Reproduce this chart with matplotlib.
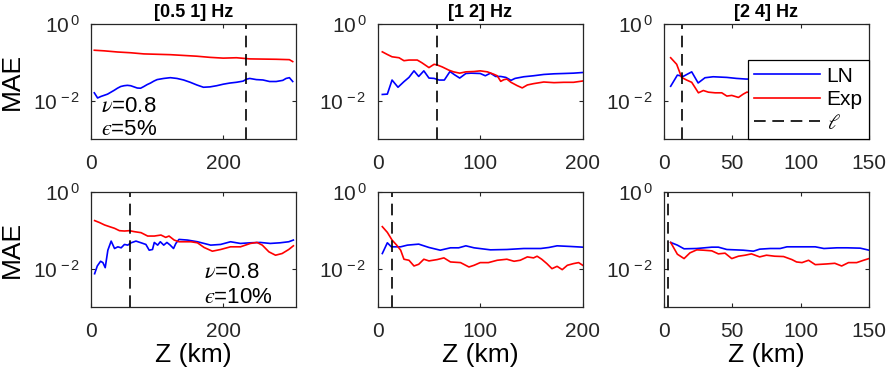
import numpy as np
import matplotlib
matplotlib.use("Agg")
import matplotlib.pyplot as plt

plt.rcParams['font.family'] = ['Liberation Sans', 'DejaVu Sans']
plt.rcParams['mathtext.fontset'] = 'stix'

titles = ['[0.5 1] Hz', '[1 2] Hz', '[2 4] Hz']
xlims = [310, 200, 150]
xticks = [[0, 200], [0, 100, 200], [0, 50, 100, 150]]
ell = [235, 58, 13.4, 59, 14.2, 2.9]

# log10(MAE)
ln_x1 = [5,10,15,20,25,30,35,40,45,50,55,60,65,70,75,80,85,90,95,100,110,120,130,140,150,
         160,170,180,190,200,210,220,230,235,240,250,260,270,280,290,295,300,305]
ln_y1 = [-1.795,-1.93,-1.89,-1.86,-1.83,-1.78,-1.73,-1.675,-1.63,-1.61,-1.60,-1.61,-1.64,-1.67,
         -1.675,-1.63,-1.58,-1.54,-1.49,-1.45,-1.42,-1.40,-1.42,-1.46,-1.52,-1.59,-1.65,-1.64,
         -1.61,-1.57,-1.54,-1.52,-1.49,-1.44,-1.42,-1.45,-1.46,-1.50,-1.50,-1.47,-1.42,-1.40,-1.50]
ex_x1 = [5,20,40,60,80,100,120,140,160,180,200,220,240,260,280,300,305]
ex_y1 = [-0.684,-0.70,-0.73,-0.75,-0.78,-0.79,-0.80,-0.82,-0.84,-0.87,-0.89,-0.88,-0.91,
         -0.915,-0.92,-0.93,-0.98]

ln_x2 = [4.5,9.4,14,19.8,25.6,30.5,35.4,40,45,50,55,60,65,70.5,75,80,86,91,100,105,110,115,
         120,125,130,134,142.5,152,162,172,181.5,191,200]
ln_y2 = [-1.838,-1.829,-1.462,-1.650,-1.504,-1.393,-1.222,-1.368,-1.222,-1.410,-1.419,-1.462,
         -1.462,-1.239,-1.325,-1.410,-1.291,-1.282,-1.291,-1.350,-1.282,-1.368,-1.368,-1.393,
         -1.470,-1.419,-1.376,-1.350,-1.316,-1.299,-1.291,-1.282,-1.265]
ex_x2 = [4.5,9.4,14,20.8,25.6,30.5,38.6,43,50,55,58,63,69.5,74,80,86,94,100,107,113,116.6,
         120,123,126,130,136,141,146,152,162,172,181.5,191,200]
ex_y2 = [-0.726,-0.795,-0.855,-0.880,-0.957,-0.940,-0.940,-1.009,-1.137,-1.051,-1.068,-1.120,
         -1.205,-1.248,-1.282,-1.248,-1.239,-1.222,-1.248,-1.308,-1.350,-1.496,-1.453,-1.436,
         -1.521,-1.607,-1.667,-1.590,-1.556,-1.513,-1.530,-1.521,-1.521,-1.487]

ln_x3 = [4.9,9.8,14,20.3,25,30,36,46,53,60,70,80,90,100,110,120,130,140,150]
ln_y3 = [-1.624,-1.333,-1.368,-1.248,-1.538,-1.402,-1.376,-1.393,-1.419,-1.436,-1.44,-1.45,
         -1.44,-1.43,-1.44,-1.45,-1.44,-1.44,-1.46]
ex_x3 = [4.9,9.3,12.9,16.6,20.3,25.2,28.8,32.5,37.4,42.3,46,49.6,54.5,58,60.6,70,80,90,100,
         110,120,130,140,150]
ex_y3 = [-0.880,-1.051,-1.393,-1.462,-1.521,-1.795,-1.735,-1.778,-1.795,-1.795,-1.880,-1.863,
         -1.915,-1.829,-1.778,-1.80,-1.82,-1.85,-1.88,-1.90,-1.88,-1.90,-1.87,-1.85]

ln_x4 = [5.5,9.5,14.5,18,21.5,25.5,30.5,35.6,40.6,45.6,50.6,55.6,60.6,68,75.7,83,88,93,95.7,
         100.8,104.8,110,114.8,119.8,124.8,128.3,133,145.9,161,181,196,211,226,241,256,271,
         286,299,306]
ln_y4 = [-2.132,-1.930,-1.807,-1.842,-1.974,-1.518,-1.281,-1.474,-1.430,-1.456,-1.368,-1.386,
         -1.325,-1.281,-1.325,-1.368,-1.518,-1.500,-1.316,-1.386,-1.298,-1.386,-1.316,-1.386,
         -1.474,-1.342,-1.237,-1.254,-1.298,-1.386,-1.368,-1.298,-1.342,-1.325,-1.316,-1.342,
         -1.325,-1.298,-1.254]
ex_x4 = [5.5,13,20.5,28,35.6,43,50.6,58,65.7,75.7,85.7,95.7,105.8,113,118,125.8,133,141,151,
         161,171,183.5,196,211,226,241,251,259,269,279,289,299,306]
ex_y4 = [-0.746,-0.798,-0.860,-0.904,-0.947,-1.009,-1.018,-1.009,-1.035,-1.061,-1.149,-1.149,
         -1.123,-1.184,-1.149,-1.254,-1.298,-1.298,-1.298,-1.325,-1.447,-1.544,-1.500,-1.430,
         -1.430,-1.342,-1.316,-1.386,-1.561,-1.649,-1.605,-1.500,-1.404]

ln_x5 = [4.5,9.4,13.3,16,22.4,29,40,50,61,71,79,86,94,110,126,142.5,159,167,175,188,200]
ln_y5 = [-1.605,-1.325,-1.430,-1.430,-1.430,-1.386,-1.360,-1.447,-1.518,-1.456,-1.456,-1.404,
         -1.456,-1.509,-1.500,-1.474,-1.474,-1.447,-1.404,-1.421,-1.439]
ex_x5 = [4.5,9.4,14,18.5,22.4,25.6,30.5,35.4,40,45,50,58,64.6,71,80.8,89,94,100,108,116.6,126,
         133,139,146,152,155.5,160,165,170,175,180,185,191,196,200]
ex_y5 = [-0.904,-1.053,-1.254,-1.386,-1.518,-1.754,-1.781,-1.930,-1.886,-1.754,-1.798,-1.763,
         -1.719,-1.825,-1.842,-1.956,-1.912,-1.842,-1.842,-1.781,-1.754,-1.807,-1.781,-1.693,
         -1.719,-1.675,-1.754,-1.868,-2.000,-1.939,-2.026,-1.912,-1.868,-1.842,-1.912]

ln_x6 = [4.9,9.8,14.7,24,35,39.8,46,58,65.5,70,77.7,85,90,99.7,110.7,117,126.5,134,143.6,150]
ln_y6 = [-1.316,-1.386,-1.482,-1.474,-1.439,-1.439,-1.500,-1.518,-1.544,-1.491,-1.474,-1.474,
         -1.430,-1.430,-1.430,-1.474,-1.456,-1.456,-1.465,-1.518]
ex_x6 = [4.9,9.8,14.7,19,24,28.8,35,39.8,44.7,49.6,54.5,59.4,64,70,75,81,87.5,93.6,97,101,
         105.8,110.7,119,125,130,135,141,146,150]
ex_y6 = [-1.316,-1.623,-1.737,-1.588,-1.509,-1.518,-1.535,-1.614,-1.596,-1.737,-1.675,-1.649,
         -1.614,-1.693,-1.649,-1.675,-1.684,-1.763,-1.825,-1.842,-1.781,-1.895,-1.877,-1.860,
         -1.930,-1.842,-1.842,-1.781,-1.737]

ln_x = [ln_x1, ln_x2, ln_x3, ln_x4, ln_x5, ln_x6]
ln_y = [ln_y1, ln_y2, ln_y3, ln_y4, ln_y5, ln_y6]
ex_x = [ex_x1, ex_x2, ex_x3, ex_x4, ex_x5, ex_x6]
ex_y = [ex_y1, ex_y2, ex_y3, ex_y4, ex_y5, ex_y6]

fig = plt.figure(figsize=(8.86, 3.77), dpi=100)
lefts = [0.1027, 0.4263, 0.7494]
bottoms = [0.6313, 0.1857]
w, h = 0.2314, 0.305

axes = []
for i in range(6):
    r, c = divmod(i, 3)
    ax = fig.add_axes([lefts[c], bottoms[r], w, h])
    axes.append(ax)
    l1, = ax.plot(ln_x[i], 10 ** np.array(ln_y[i]), color='#0000ff', lw=1.2)
    l2, = ax.plot(ex_x[i], 10 ** np.array(ex_y[i]), color='#ff0000', lw=1.2)
    l3 = ax.axvline(ell[i], color='k', lw=1.2, dashes=(7, 4))
    ax.set_yscale('log')
    ax.set_ylim(1e-3, 1e0)
    ax.set_xlim(0, xlims[c])
    ax.set_xticks(xticks[c])
    ax.set_yticks([1e-2, 1e0])
    ax.set_yticklabels([r'$\mathdefault{10^{\,-2}}$', r'$\mathdefault{10^{\,0}}$'])
    ax.minorticks_off()
    ax.tick_params(direction='in', length=3, width=0.8, top=True, right=True,
                   labelsize=15, colors='#262626')
    ax.tick_params(axis='x', pad=11)
    ax.tick_params(axis='y', pad=8)
    for s in ax.spines.values():
        s.set_color('#262626')
        s.set_linewidth(0.9)
    if r == 0:
        ax.set_title(titles[c], fontsize=13, fontweight='bold', pad=5)
    else:
        ax.set_xlabel('Z (km)', fontsize=19, labelpad=1)
    if c == 0:
        ax.set_ylabel('MAE', fontsize=19)
        ax.yaxis.set_label_coords(-0.325, 0.5)
    if i == 2:
        leg = ax.legend([l1, l2, l3], ['LN', 'Exp', r'$\ell$'], loc='lower right',
                        bbox_to_anchor=(1, 0), borderaxespad=0, fontsize=15,
                        fancybox=False, edgecolor='k', framealpha=1,
                        handlelength=3.2, labelspacing=0.22, borderpad=0.3,
                        handletextpad=0.3)
        leg.get_frame().set_linewidth(0.9)

eps = '$\u03f5$'
axes[0].text(0.05, 0.28, r'$\nu$=0.8', transform=axes[0].transAxes, fontsize=16, va='center')
axes[0].text(0.05, 0.08, eps + '=5%', transform=axes[0].transAxes, fontsize=16, va='center')
axes[3].text(0.55, 0.30, r'$\nu$=0.8', transform=axes[3].transAxes, fontsize=16, va='center')
axes[3].text(0.55, 0.08, eps + '=10%', transform=axes[3].transAxes, fontsize=16, va='center')

fig.savefig('out.png', dpi=100)
